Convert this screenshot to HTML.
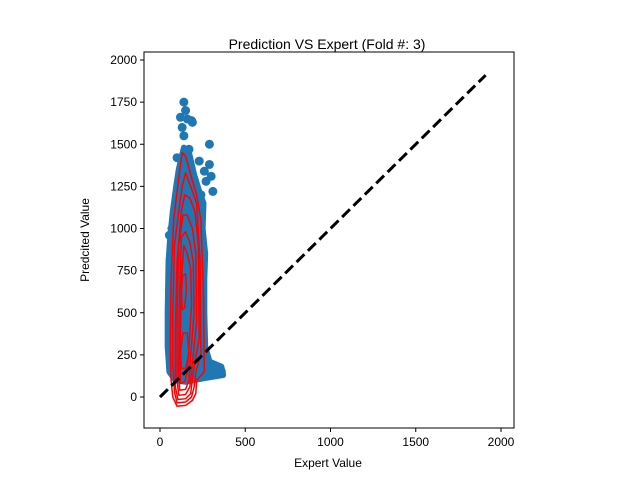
<!DOCTYPE html>
<html><head><meta charset="utf-8"><style>
body{margin:0;background:#fff;font-family:"Liberation Sans",sans-serif}
</style></head><body>
<svg width="640" height="480" xmlns="http://www.w3.org/2000/svg" style="font-family:'Liberation Sans',sans-serif">
<text x="327" y="49" font-size="14" text-anchor="middle">Prediction VS Expert (Fold #: 3)</text>
<g id="plot"></g>
<rect x="144" y="52" width="370" height="376" fill="none" stroke="#000" stroke-width="1"/>
<g id="ticks" font-size="12"></g>
<text x="328" y="467" font-size="12" text-anchor="middle">Expert Value</text>
<text x="89" y="240" font-size="12" text-anchor="middle" transform="rotate(-90 89 240)">Predcited Value</text>
</svg>
<script>
const xTicks=[0,500,1000,1500,2000];
const yTicks=[0,250,500,750,1000,1250,1500,1750,2000];
const blobX=[110,140,170,200,230,255,250,265,260,260,265,290,360,370,250,150,90,55,45,45,50,60,75,95];
const blobY=[1350,1480,1450,1320,1220,1150,1000,850,700,500,300,210,180,130,110,90,100,150,300,500,800,950,1100,1250];
const outX=[140,150,160,120,130,185,190,140,290,290,300,310,260,270,70,55,60,100,170,330,360,230,240];
const outY=[1750,1700,1650,1660,1600,1640,1630,1550,1500,1380,1310,1220,1340,1280,1000,960,820,1420,1470,160,150,1400,1200];
const contours=[
 {x:[100,150,190,210,215,260,255,240,215,185,150,130,110,80,65,60,65,75],y:[-55,-50,-20,20,100,150,600,1050,1200,1300,1430,1450,1300,1050,700,300,100,0]},
 {x:[100,150,185,200,210,240,235,215,180,150,130,110,85,75,75,85],y:[-35,-30,0,60,150,250,800,1150,1250,1330,1250,1100,900,500,200,30]},
 {x:[105,150,180,195,230,225,205,175,145,125,100,90,90],y:[-15,-10,20,150,350,900,1100,1180,1200,1100,800,400,60]},
 {x:[110,150,175,190,215,210,190,160,135,110,100,100],y:[10,15,60,200,450,850,1000,1080,1080,900,500,100]},
 {x:[115,150,170,180,200,195,175,150,125,112,110],y:[40,45,100,250,500,800,920,980,950,500,150]},
 {x:[120,145,160,170,185,180,160,140,125,118],y:[80,90,150,300,550,760,850,900,700,300]},
 {x:[125,150,170,160,135,120],y:[170,170,260,380,380,270]},
 {x:[130,145,155,150,132,126],y:[520,530,640,730,720,620]}
];
const diagStart=[0,0], diagEnd=[1910,1910];
const X=v=>160+v*0.17050, Y=v=>397-v*0.16850;
const NS="http://www.w3.org/2000/svg";
const plot=document.getElementById('plot'), ticks=document.getElementById('ticks');
function mk(t,a,p){const e=document.createElementNS(NS,t);for(const k in a)e.setAttribute(k,a[k]);p.appendChild(e);return e;}
const clip=mk('clipPath',{id:'c'},plot);mk('rect',{x:144,y:52,width:370,height:376},clip);
const g=mk('g',{'clip-path':'url(#c)'},plot);
let pts=blobX.map((v,i)=>X(v)+','+Y(blobY[i])).join(' ');
const blob=mk('polygon',{points:pts,fill:'#1f77b4',stroke:'#1f77b4','stroke-width':6,'stroke-linejoin':'round'},g);


outX.forEach((v,i)=>{const c=mk('circle',{cx:X(v),cy:Y(outY[i]),r:4.5,fill:'#1f77b4'},g);

});
contours.forEach(ct=>{const d=ct.x.map((v,i)=>X(v)+','+Y(ct.y[i])).join(' ');
const p=mk('polygon',{points:d,fill:'none',stroke:'#ff0000','stroke-width':1.5,'stroke-linejoin':'round'},g);

});
const ln=mk('line',{x1:X(diagStart[0]),y1:Y(diagStart[1]),x2:X(diagEnd[0]),y2:Y(diagEnd[1]),stroke:'#000','stroke-width':3,'stroke-dasharray':'11,5'},g);


xTicks.forEach(v=>{mk('line',{x1:X(v),x2:X(v),y1:428,y2:432,stroke:'#000'},ticks);
const t=mk('text',{x:X(v),y:446,'text-anchor':'middle'},ticks);t.textContent=v;

});
yTicks.forEach(v=>{mk('line',{x1:140,x2:144,y1:Y(v),y2:Y(v),stroke:'#000'},ticks);
const t=mk('text',{x:137,y:Y(v)+4,'text-anchor':'end'},ticks);t.textContent=v;

});
</script>
</body></html>
